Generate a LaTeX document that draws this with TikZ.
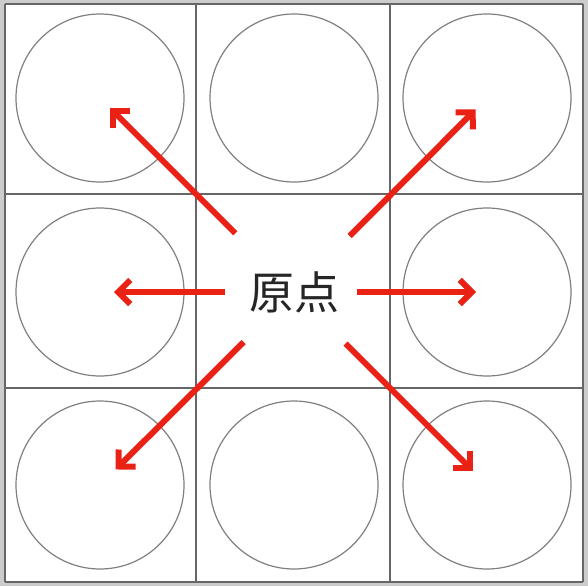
\documentclass[tikz,border=0pt]{standalone}
\usepackage{fontspec}
\newfontfamily\cjk{Noto Sans CJK SC}
\usepackage{tikz}
\usetikzlibrary{arrows.meta}
\definecolor{rayred}{RGB}{234,34,22}

\begin{document}
\begin{tikzpicture}[x=1pt,y=-1pt,
    gridline/.style={draw=black!60, line width=2.8pt},
    cell/.style={circle, draw=black!50, line width=1.2pt, minimum size=168pt, inner sep=0pt},
    ray/.style={draw=rayred, line width=6pt,
        -{Straight Barb[angle=90:17pt, line cap=butt, line join=miter]}}]
    % Setup
    \fill[black!20] (0,0) rectangle (588,586);
    \fill[white] (5,4) rectangle (583,582);

    % Grid lines
    \foreach \x in {5,196,390,583} {
        \draw[gridline] (\x,4) -- (\x,582);
    }
    \foreach \y in {4,194,388,582} {
        \draw[gridline] (5,\y) -- (583,\y);
    }

    % Circles in the outer cells
    \foreach \name/\x/\y in {tl/100/98, tm/294/98, tr/487/98, ml/100/292,
                             mr/487/292, bl/100/485, bm/294/485, br/487/485} {
        \node[cell] (\name) at (\x,\y) {};
    }

    % Origin label
    \node[text=black!85, font=\cjk\fontsize{45}{45}\selectfont] (origin) at (294,292) {原点};

    % Arrows from the origin
    \foreach \name/\s/\e in {tl/83/14, tr/79/16, ml/69/14, mr/63/11, bl/71/22, br/73/20} {
        \draw[ray, shorten <=\s pt, shorten >=\e pt] (origin.center) -- (\name.center);
    }
\end{tikzpicture}
\end{document}
